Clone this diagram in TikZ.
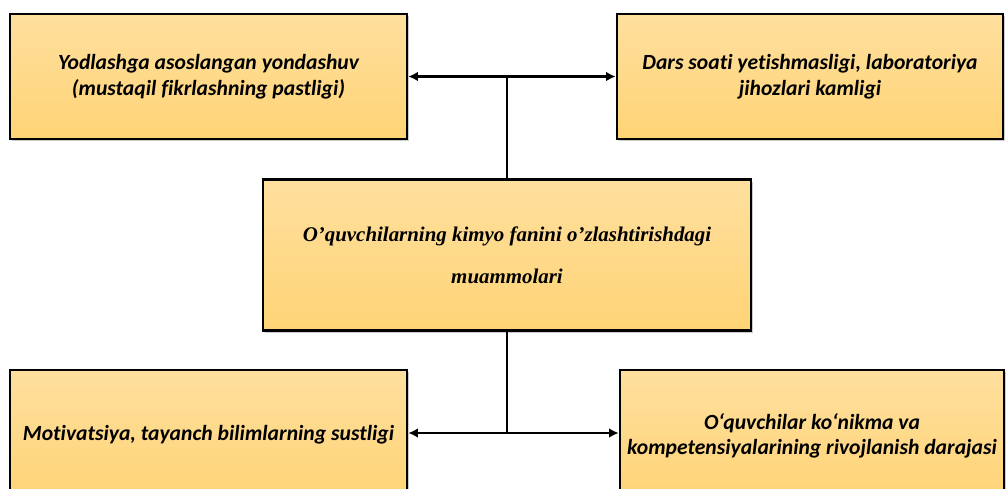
\documentclass[tikz,border=0pt]{standalone}
\usepackage{fontspec}
\setmainfont[Ligatures=NoCommon]{Carlito}
\newfontfamily\timesfont{Liberation Serif}
\usepackage{tikz}
\usetikzlibrary{arrows.meta}
\usetikzlibrary{shadows}
\tikzset{
	>={Latex[length=5.5pt,width=5.5pt]}
}
\definecolor{boxtop}{RGB}{254,223,158}
\definecolor{boxbottom}{RGB}{255,212,118}
\tikzset{
	muammo/.style={draw, line width=1.5pt, top color=boxtop, bottom color=boxbottom,
		align=center, inner sep=0pt,
		font=\bfseries\itshape\fontsize{12.3}{14.5}\selectfont,
		drop shadow={shadow xshift=1.2pt, shadow yshift=-1.2pt, fill=black, opacity=0.2}},
	chiziq/.style={line width=1.5pt}
}

\begin{document}
\begin{tikzpicture}[x=0.02cm, y=-0.02cm]
	%\draw[help lines] (0,0) grid (1007,488);
	\clip (0,0) rectangle (1007,488);

	\node[muammo, minimum width=7.94cm, minimum height=2.5cm] (yodlash) at (208.5,76.5)
		{Yodlashga asoslangan yondashuv\\(mustaqil fikrlashning pastligi)};
	\node[muammo, minimum width=7.72cm, minimum height=2.5cm] (soat) at (810,76.5)
		{Dars soati yetishmasligi, laboratoriya\\jihozlari kamligi};
	\node[muammo, minimum width=9.76cm, minimum height=3.02cm,
		font=\timesfont\bfseries\itshape\fontsize{11.9}{24}\selectfont] (markaz) at (507,255)
		{O’quvchilarning kimyo fanini o’zlashtirishdagi\\muammolari};
	\node[muammo, minimum width=7.94cm, minimum height=2.6cm] (motiv) at (208.5,435)
		{Motivatsiya, tayanch bilimlarning sustligi};
	\node[muammo, minimum width=7.68cm, minimum height=2.64cm] (daraja) at (812,436)
		{O‘quvchilar ko‘nikma va\\kompetensiyalarining rivojlanish darajasi};

	\coordinate (yuqori) at (markaz.north |- yodlash.east);
	\coordinate (quyi) at (507,433);

	\draw[chiziq, <->] (yodlash.east) -- (soat.west |- yodlash.east);
	\draw[chiziq] (markaz.north) -- (yuqori);

	\draw[chiziq, <->] (motiv.east |- quyi) -- (daraja.west |- quyi);
	\draw[chiziq] (markaz.south) -- (quyi);

\end{tikzpicture}
\end{document}
